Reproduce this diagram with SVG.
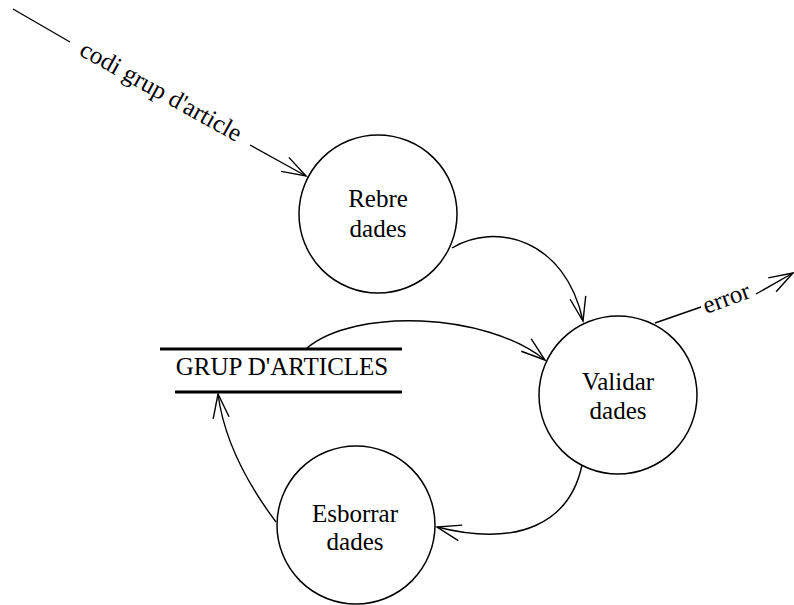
<svg xmlns="http://www.w3.org/2000/svg" width="794" height="605" viewBox="0 0 794 605">
  <style>
    .bubble { fill: #ffffff; stroke: #000000; stroke-width: 1.5; }
    .label { font-family: "Liberation Serif", "Times New Roman", serif; font-size: 25px; fill: #000000; text-anchor: middle; }
    .flow { fill: none; stroke: #000000; stroke-width: 1.4; }
    .store { stroke: #000000; stroke-width: 3; }
  </style>
  <defs>
    <marker id="open-arrow" markerUnits="userSpaceOnUse" markerWidth="30" markerHeight="20" viewBox="-26 -10 30 20" refX="0" refY="0" orient="auto">
      <path d="M-24,-8 L0,0 L-24,8" fill="none" stroke="#000000" stroke-width="1.4"/>
    </marker>
  </defs>
  <rect width="794" height="605" fill="#ffffff"/>

  <!-- processes -->
  <g id="rebre-dades">
    <circle class="bubble" cx="378" cy="214" r="79"/>
    <text class="label" x="378" y="207">Rebre</text>
    <text class="label" x="378" y="237">dades</text>
  </g>
  <g id="validar-dades">
    <circle class="bubble" cx="618" cy="395" r="79"/>
    <text class="label" x="618" y="390">Validar</text>
    <text class="label" x="618" y="419">dades</text>
  </g>
  <g id="esborrar-dades">
    <circle class="bubble" cx="356" cy="525" r="79"/>
    <text class="label" x="355" y="522">Esborrar</text>
    <text class="label" x="355" y="550">dades</text>
  </g>

  <!-- data store -->
  <g id="grup-articles">
    <line class="store" x1="160" y1="349" x2="402" y2="349"/>
    <line class="store" x1="175" y1="392" x2="402" y2="392"/>
    <text class="label" x="282" y="375" font-size="24">GRUP D'ARTICLES</text>
  </g>

  <!-- data flows -->
  <g id="connectors">
    <!-- codi grup d'article -->
    <line class="flow" x1="13" y1="9" x2="70" y2="42"/>
    <line class="flow" x1="250" y1="145" x2="306" y2="176" marker-end="url(#open-arrow)"/>
    <text class="label" transform="translate(160,93) rotate(29)" x="0" y="6">codi grup d'article</text>

    <!-- Rebre -> Validar -->
    <path class="flow" d="M452,248 C495,222 565,238 583,321" marker-end="url(#open-arrow)"/>

    <!-- error -->
    <line class="flow" x1="655" y1="323" x2="701" y2="307"/>
    <line class="flow" x1="756" y1="294" x2="793" y2="273" marker-end="url(#open-arrow)"/>
    <text class="label" transform="translate(727,300) rotate(-20)" x="0" y="6">error</text>

    <!-- store -> Validar -->
    <path class="flow" d="M307,348 C355,308 485,312 545,360" marker-end="url(#open-arrow)"/>

    <!-- Validar -> Esborrar -->
    <path class="flow" d="M582,465 C570,522 520,548 437,527" marker-end="url(#open-arrow)"/>

    <!-- Esborrar -> store -->
    <path class="flow" d="M276,522 C246,482 224,440 218,394" marker-end="url(#open-arrow)"/>
  </g>
</svg>
